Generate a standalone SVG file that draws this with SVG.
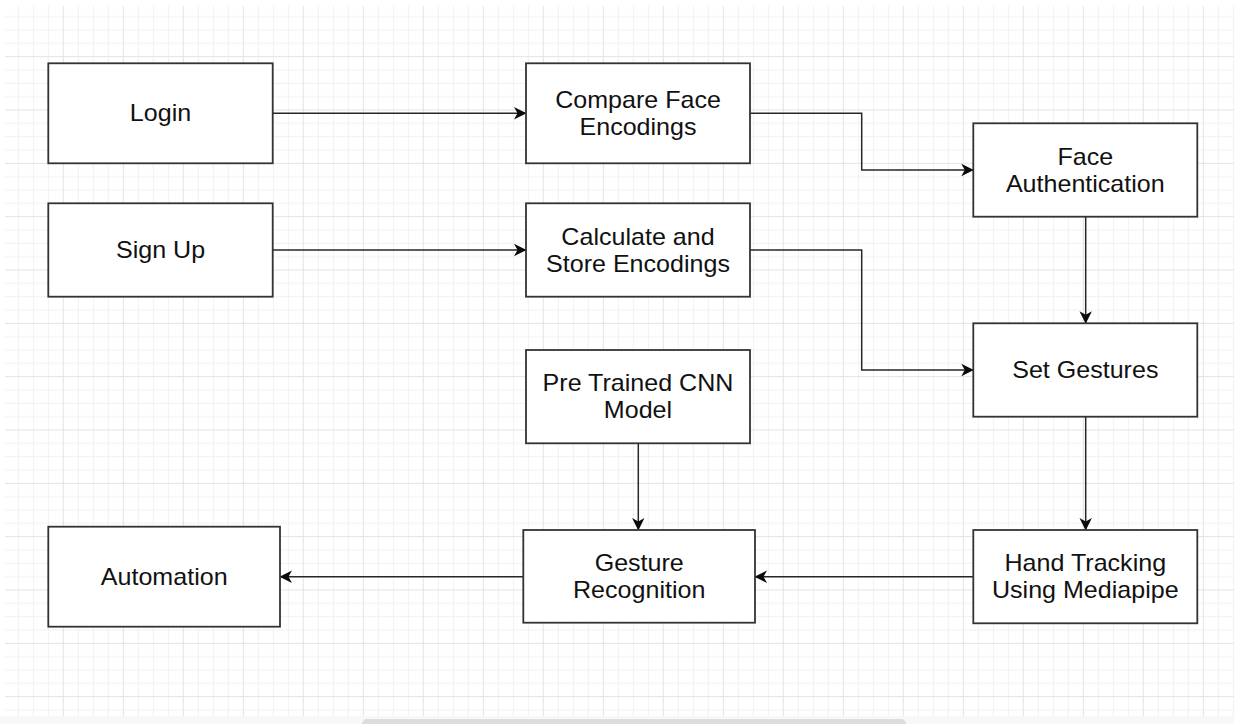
<svg xmlns="http://www.w3.org/2000/svg" width="1234" height="724" viewBox="0 0 1234 724">
  <defs>
    <style>
      .box { fill: #ffffff; stroke: #333333; stroke-width: 1.8; }
      .lbl { font-family: "Liberation Sans", Arial, sans-serif; font-size: 23px; fill: #111111; text-anchor: middle; }
      .edge { fill: none; stroke: #262626; stroke-width: 1.5; }
    </style>
    <pattern id="grid" x="2.833" y="2.833" width="60" height="53.333" patternUnits="userSpaceOnUse">
      <path d="M15.5,0V53.333 M30.5,0V53.333 M45.5,0V53.333 M0,13.833H60 M0,27.167H60 M0,40.5H60" stroke="#f1f1f1" stroke-width="1" fill="none"/>
      <path d="M0.5,0V53.333 M0,0.5H60" stroke="#e3e3e3" stroke-width="1" fill="none"/>
    </pattern>
    <marker id="arrow" markerUnits="userSpaceOnUse" markerWidth="14" markerHeight="14" viewBox="-13 -7 14 14" refX="0" refY="0" orient="auto">
      <path d="M0.5,0 L-12,-6.2 L-8.5,0 L-12,6.2 Z" fill="#0a0a0a"/>
    </marker>
  </defs>

  <rect x="0" y="0" width="1234" height="724" fill="#ffffff"/>
  <rect x="5" y="6" width="1229" height="710" fill="url(#grid)"/>
  <rect x="0" y="716" width="1234" height="8" fill="#f7f8f9"/>
  <rect x="362" y="719" width="544" height="10" rx="5" fill="#dcdde0"/>

  <g id="connectors">
    <path class="edge" d="M272.7,113.3 H526" marker-end="url(#arrow)"/>
    <path class="edge" d="M750,113.3 H861.7 V170 H973.3" marker-end="url(#arrow)"/>
    <path class="edge" d="M272.7,250 H526" marker-end="url(#arrow)"/>
    <path class="edge" d="M750,250 H861.7 V370 H973.3" marker-end="url(#arrow)"/>
    <path class="edge" d="M1085.7,216.7 V323.3" marker-end="url(#arrow)"/>
    <path class="edge" d="M1085.7,416.7 V530" marker-end="url(#arrow)"/>
    <path class="edge" d="M638.3,443.3 V530" marker-end="url(#arrow)"/>
    <path class="edge" d="M973.3,576.7 H755" marker-end="url(#arrow)"/>
    <path class="edge" d="M523.3,576.7 H280" marker-end="url(#arrow)"/>
  </g>

  <g id="login">
    <rect class="box" x="48.3" y="63.3" width="224.4" height="100"/>
    <text class="lbl" transform="matrix(1.09,0,0,1,160.5,0)" x="0" y="121.5">Login</text>
  </g>
  <g id="compare">
    <rect class="box" x="526" y="63.3" width="224" height="100"/>
    <text class="lbl" transform="matrix(1.09,0,0,1,638,0)" x="0" y="108.2">Compare Face</text>
    <text class="lbl" transform="matrix(1.09,0,0,1,638,0)" x="0" y="135.2">Encodings</text>
  </g>
  <g id="faceauth">
    <rect class="box" x="973.3" y="123.3" width="224" height="93.4"/>
    <text class="lbl" transform="matrix(1.09,0,0,1,1085.3,0)" x="0" y="164.7">Face</text>
    <text class="lbl" transform="matrix(1.09,0,0,1,1085.3,0)" x="0" y="191.7">Authentication</text>
  </g>
  <g id="signup">
    <rect class="box" x="48.3" y="203.3" width="224.4" height="93.4"/>
    <text class="lbl" transform="matrix(1.09,0,0,1,160.5,0)" x="0" y="258">Sign Up</text>
  </g>
  <g id="calculate">
    <rect class="box" x="526" y="203.3" width="224" height="93.4"/>
    <text class="lbl" transform="matrix(1.09,0,0,1,638,0)" x="0" y="244.7">Calculate and</text>
    <text class="lbl" transform="matrix(1.09,0,0,1,638,0)" x="0" y="271.7">Store Encodings</text>
  </g>
  <g id="setgestures">
    <rect class="box" x="973.3" y="323.3" width="224" height="93.4"/>
    <text class="lbl" transform="matrix(1.09,0,0,1,1085.3,0)" x="0" y="378">Set Gestures</text>
  </g>
  <g id="pretrained">
    <rect class="box" x="526" y="350" width="224" height="93.3"/>
    <text class="lbl" transform="matrix(1.09,0,0,1,638,0)" x="0" y="391">Pre Trained CNN</text>
    <text class="lbl" transform="matrix(1.09,0,0,1,638,0)" x="0" y="418">Model</text>
  </g>
  <g id="gesturerecognition">
    <rect class="box" x="523.3" y="530" width="231.7" height="92.7"/>
    <text class="lbl" transform="matrix(1.09,0,0,1,639.2,0)" x="0" y="571">Gesture</text>
    <text class="lbl" transform="matrix(1.09,0,0,1,639.2,0)" x="0" y="598">Recognition</text>
  </g>
  <g id="handtracking">
    <rect class="box" x="973.3" y="530" width="224" height="93.3"/>
    <text class="lbl" transform="matrix(1.09,0,0,1,1085.3,0)" x="0" y="571">Hand Tracking</text>
    <text class="lbl" transform="matrix(1.09,0,0,1,1085.3,0)" x="0" y="598">Using Mediapipe</text>
  </g>
  <g id="automation">
    <rect class="box" x="48.3" y="526.7" width="231.7" height="100"/>
    <text class="lbl" transform="matrix(1.09,0,0,1,164.2,0)" x="0" y="584.9">Automation</text>
  </g>
</svg>
